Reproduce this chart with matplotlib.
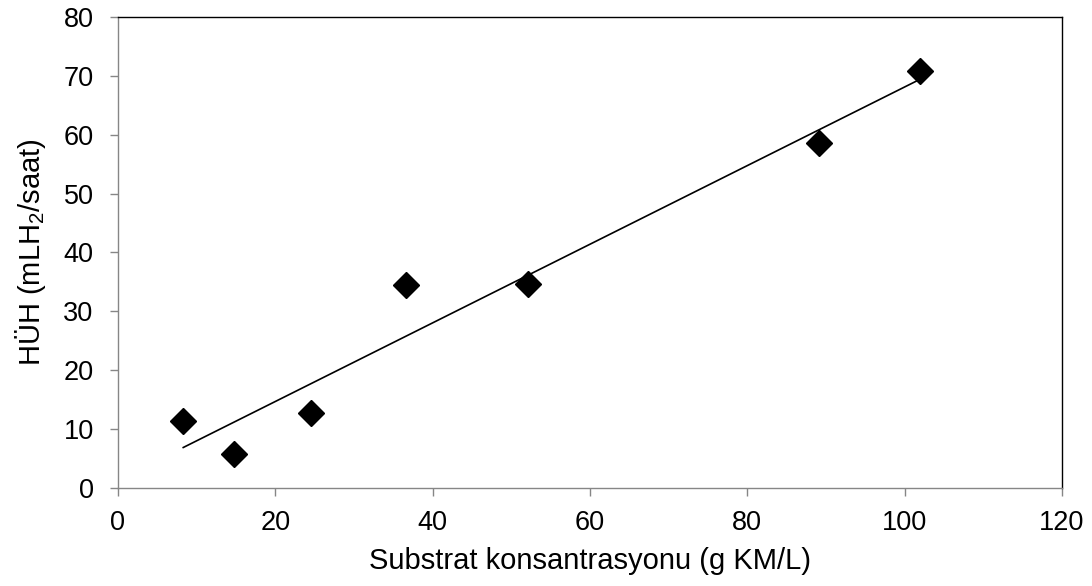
import numpy as np
import matplotlib
matplotlib.use('Agg')
import matplotlib.pyplot as plt

plt.rcParams['font.family'] = ['Liberation Sans', 'DejaVu Sans']
plt.rcParams['mathtext.default'] = 'regular'

# veri
substrat = [8.3, 14.8, 24.6, 36.6, 52.1, 89.1, 102.0]
huh = [11.3, 5.7, 12.7, 34.4, 34.6, 58.5, 70.8]

x_ticks = [0, 20, 40, 60, 80, 100, 120]
y_ticks = [0, 10, 20, 30, 40, 50, 60, 70, 80]

gri = '#868686'

fig = plt.figure(figsize=(10.92, 5.86), dpi=100)
ax = fig.add_axes([0.108, 0.1672, 0.8645, 0.804])

ax.plot(substrat, huh, 'D', color='black', markersize=13, zorder=3)

# dogrusal trend
egim, kesim = np.polyfit(substrat, huh, 1)
xs = np.array([min(substrat), max(substrat)])
ax.plot(xs, egim * xs + kesim, color='black', linewidth=1.2)

ax.set_xlim(0, 120)
ax.set_ylim(0, 80)
ax.set_xticks(x_ticks)
ax.set_yticks(y_ticks)
ax.tick_params(axis='x', pad=10.5)
ax.tick_params(axis='y', pad=12)
ax.tick_params(labelsize=19.5, direction='out', length=5.5, width=1, color=gri)
ax.spines['left'].set_color(gri)
ax.spines['bottom'].set_color(gri)
for s in ax.spines.values():
    s.set_linewidth(1)

ax.set_xlabel('Substrat konsantrasyonu (g KM/L)', fontsize=21, labelpad=8)
ax.set_ylabel('HÜH (mLH$_2$/saat)', fontsize=21, labelpad=11)

fig.savefig('out.png', dpi=100)
